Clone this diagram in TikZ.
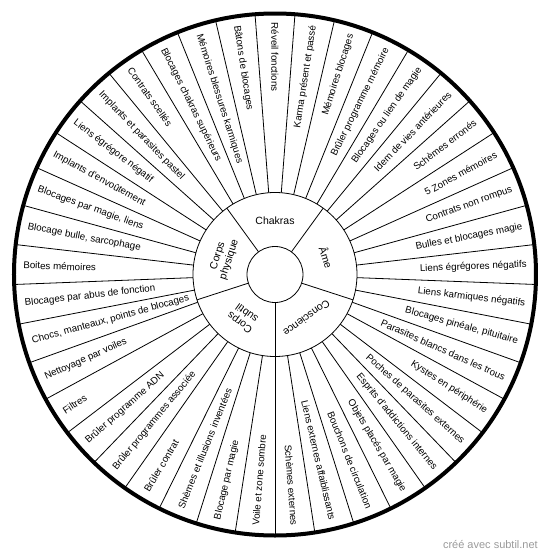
\documentclass[tikz,border=0pt]{standalone}
\usepackage{fontspec}
\setmainfont{Liberation Sans}
\usepackage{tikz}
\definecolor{rimline}{HTML}{000000}
\definecolor{credit}{HTML}{9A9A9A}
\tikzset{
  spoke/.style={draw, line width=0.8pt},
  rim/.style={draw=rimline, line width=4pt},
  outlabel/.style={font=\fontsize{9.75}{11}\selectfont, inner sep=0pt},
  inlabel/.style={font=\fontsize{10.5}{12}\selectfont, align=center, inner sep=0pt},
}

\begin{document}
\begin{tikzpicture}[x=1pt, y=1pt]
    \useasboundingbox (-275,-283.5) rectangle (275,274.5);
    % outer ring
    \foreach \k in {0,...,40}
      \draw[spoke] ({90-180/41-\k*360/41}:82) -- ({90-180/41-\k*360/41}:261);
    \foreach \txt [count=\i from 0] in {R\'eveil fonctions, Karma pr\'esent et pass\'e, M\'emoires blocages,
        Br\^uler programme m\'emoire, Blocages ou lien de magie, Idem de vies ant\'erieures,
        Sch\`emes erron\'es, 5 Zones m\'emoires, Contrats non rompus, Bulles et blocages magie,
        Liens \'egr\'egores n\'egatifs, Liens karmiques n\'egatifs, {Blocages pin\'eale, pituitaire},
        Parasites blancs dans les trous, Kystes en p\'eriph\'erie, Poches de parasites externes,
        Esprits d'addictions internes, Objets plac\'es par magie, Bouchons de circulation,
        Liens externes affaiblissants, Sch\`emes externes, Voile et zone sombre, Blocage par magie,
        Sh\`emes et illusions invent\'ees, Br\^uler contrat, Br\^uler programmes associ\'ee,
        Br\^uler programme ADN, Filtres, Nettoyage par voiles, {Chocs, manteaux, points de blocages},
        Blocages par abus de fonction, Boites m\'emoires, {Blocage bulle, sarcophage},
        {Blocages par magie, liens}, Implants d'envo\^utement, Liens \'egr\'egore n\'egatif,
        Implants et parasites pastel, Contrats scell\'es, Blocages chakras sup\'erieurs,
        M\'emoires blessures karmiques, B\^atons de blocages}{
      \pgfmathsetmacro\ang{90-\i*360/41}
      \ifnum\i>0 \ifnum\i<21
        \node[outlabel, rotate=\ang, anchor=east] (lbl\i) at (\ang:252) {\txt};
      \else
        \node[outlabel, rotate=\ang+180, anchor=west] (lbl\i) at (\ang:252) {\txt};
      \fi\else
        \node[outlabel, rotate=\ang+180, anchor=west] (lbl\i) at (\ang:252) {\txt};
      \fi
    }
    % inner ring
    \draw[spoke, fill=white] (0,0) circle (82);
    \foreach \a in {-90,-18,54,126,198}
      \draw[spoke] (\a:28) -- (\a:82);
    \draw[spoke, fill=white] (0,0) circle (28);
    \draw[rim] (0,0) circle (261);
    \node[inlabel] (chakras) at (90:54) {Chakras};
    \node[inlabel, rotate=-72] (ame) at (18:54) {\^Ame};
    \node[inlabel, rotate=-144] (conscience) at (-54:54) {Conscience};
    \node[inlabel, rotate=144] (subtil) at (-126:54) {Corps\\subtil};
    \node[inlabel, rotate=72] (physique) at (162:54) {Corps\\physique};
    \node[font=\fontsize{11}{13}\selectfont, inner sep=0pt, text=credit, anchor=east] (credit) at (263,-270.5) {cr\'e\'e avec subtil.net};
  \end{tikzpicture}
\end{document}
